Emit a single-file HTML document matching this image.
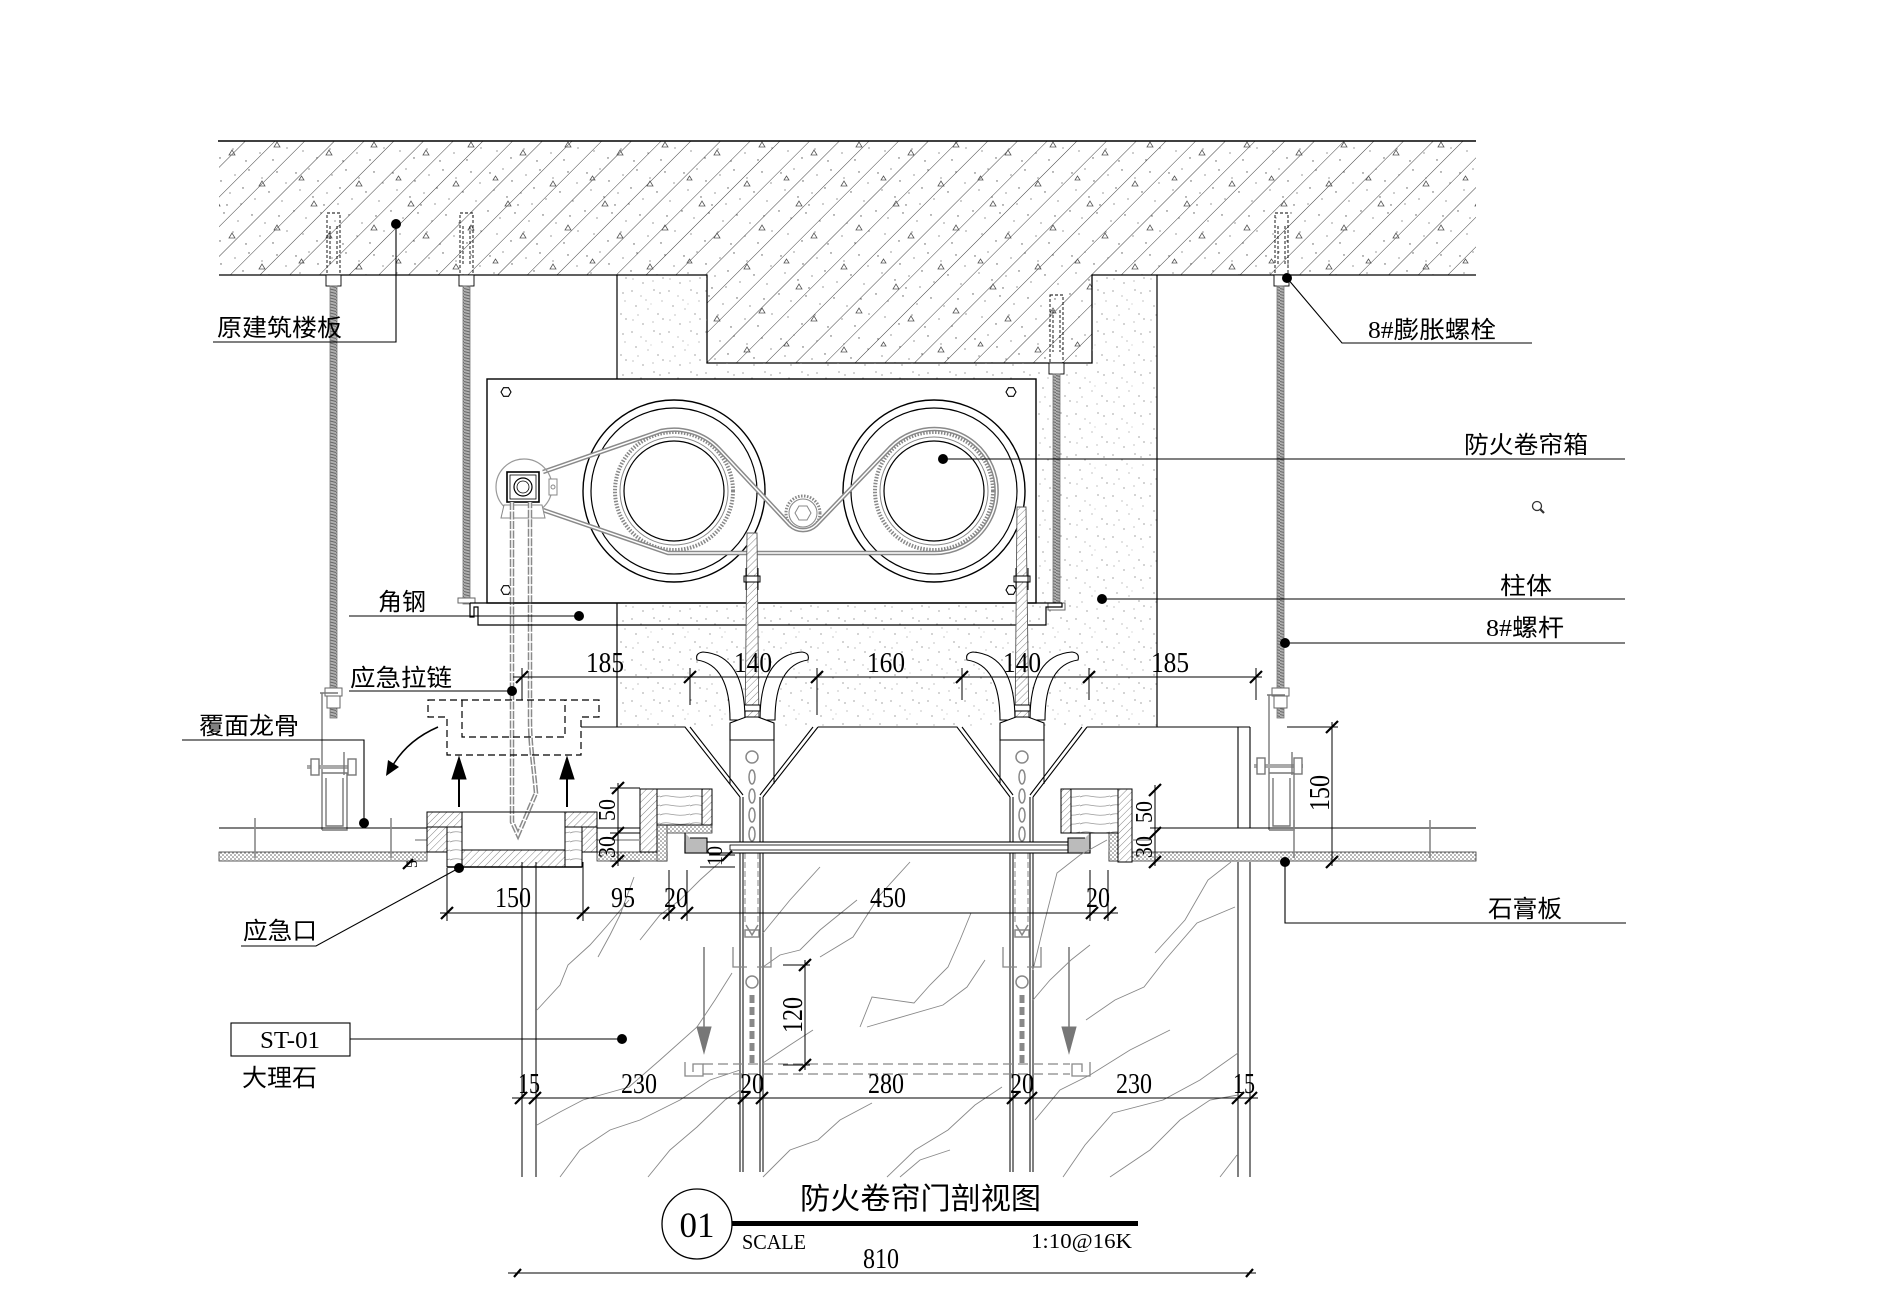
<!DOCTYPE html>
<html><head><meta charset="utf-8">
<style>
html,body{margin:0;padding:0;background:#fff;}
svg{display:block;}
text{font-family:"Liberation Serif","Noto Serif CJK SC",serif;fill:#000;}
.cj{font-family:"Liberation Serif","Noto Sans CJK SC",sans-serif;font-size:24px;}
.dn{font-size:28px;text-anchor:middle;}
</style></head><body>
<svg width="1885" height="1316" viewBox="0 0 1885 1316" xmlns="http://www.w3.org/2000/svg">
<defs>
 <pattern id="hatch" width="21" height="21" patternUnits="userSpaceOnUse" patternTransform="rotate(45)">
   <line x1="0" y1="0" x2="0" y2="21" stroke="#444" stroke-width="1"/>
 </pattern>
 <pattern id="conc" width="97" height="83" patternUnits="userSpaceOnUse">
   <g fill="#555">
   <circle cx="5" cy="7" r="0.7"/><circle cx="18" cy="3" r="0.6"/><circle cx="27" cy="15" r="0.7"/><circle cx="41" cy="9" r="0.6"/>
   <circle cx="55" cy="4" r="0.7"/><circle cx="68" cy="12" r="0.6"/><circle cx="83" cy="6" r="0.7"/><circle cx="92" cy="17" r="0.6"/>
   <circle cx="9" cy="24" r="0.6"/><circle cx="22" cy="31" r="0.7"/><circle cx="36" cy="27" r="0.6"/><circle cx="49" cy="22" r="0.7"/>
   <circle cx="61" cy="33" r="0.6"/><circle cx="75" cy="26" r="0.7"/><circle cx="88" cy="35" r="0.6"/><circle cx="3" cy="45" r="0.7"/>
   <circle cx="15" cy="52" r="0.6"/><circle cx="30" cy="47" r="0.7"/><circle cx="44" cy="55" r="0.6"/><circle cx="58" cy="49" r="0.7"/>
   <circle cx="71" cy="57" r="0.6"/><circle cx="85" cy="50" r="0.7"/><circle cx="12" cy="68" r="0.6"/><circle cx="26" cy="75" r="0.7"/>
   <circle cx="39" cy="66" r="0.6"/><circle cx="52" cy="78" r="0.7"/><circle cx="66" cy="70" r="0.6"/><circle cx="79" cy="77" r="0.7"/>
   <circle cx="93" cy="65" r="0.6"/><circle cx="47" cy="38" r="0.6"/><circle cx="33" cy="39" r="0.7"/>
   </g>
   <g fill="none" stroke="#555" stroke-width="0.8">
   <path d="M20,40 l3,-5 l3,5 z"/><path d="M65,20 l3,-5 l3,5 z"/><path d="M80,64 l3,-5 l3,5 z"/><path d="M35,72 l3,-5 l3,5 z"/><path d="M8,14 l2.5,-4 l2.5,4 z"/>
   </g>
 </pattern>
 <pattern id="speck" width="37" height="41" patternUnits="userSpaceOnUse">
   <g fill="#666">
   <circle cx="3" cy="4" r="0.6"/><circle cx="12" cy="9" r="0.5"/><circle cx="25" cy="3" r="0.6"/><circle cx="33" cy="14" r="0.5"/>
   <circle cx="7" cy="19" r="0.6"/><circle cx="19" cy="22" r="0.5"/><circle cx="29" cy="27" r="0.6"/><circle cx="4" cy="33" r="0.5"/>
   <circle cx="14" cy="37" r="0.6"/><circle cx="24" cy="35" r="0.5"/><circle cx="34" cy="32" r="0.6"/><circle cx="17" cy="13" r="0.5"/>
   <circle cx="9" cy="28" r="0.5"/><circle cx="31" cy="6" r="0.6"/><circle cx="22" cy="17" r="0.4"/>
   </g>
 </pattern>
 <pattern id="board" width="4" height="4" patternUnits="userSpaceOnUse">
   <rect width="4" height="4" fill="#fff"/><circle cx="1" cy="1" r="0.8" fill="#666"/><circle cx="3" cy="3" r="0.8" fill="#666"/>
 </pattern>
 <pattern id="whatch" width="5" height="5" patternUnits="userSpaceOnUse" patternTransform="rotate(45)">
   <rect width="5" height="5" fill="#fff"/><line x1="0" y1="0" x2="0" y2="5" stroke="#777" stroke-width="0.9"/>
 </pattern>
 <pattern id="wood" width="30" height="9" patternUnits="userSpaceOnUse">
   <rect width="30" height="9" fill="#fff"/><path d="M0,5 C8,1 15,8 30,4" stroke="#999" fill="none" stroke-width="0.8"/>
 </pattern>
 <pattern id="thread" width="8" height="3" patternUnits="userSpaceOnUse">
   <rect width="8" height="3" fill="#b0b0b0"/><line x1="0" y1="0.5" x2="8" y2="2.5" stroke="#666" stroke-width="1"/>
 </pattern>
</defs>

<!-- ===== SLAB ===== -->
<path d="M219,141 H1476 V275 H1092 V363 H707 V275 H219 Z" fill="url(#hatch)"/>
<path d="M219,141 H1476 V275 H1092 V363 H707 V275 H219 Z" fill="url(#conc)"/>
<path d="M218,141 H1476" stroke="#000" stroke-width="1.5" fill="none"/>
<path d="M219,275 H707 V363 H1092 V275 H1476" stroke="#000" stroke-width="1.3" fill="none"/>

<!-- ===== COLUMN ===== -->
<path d="M617,275 H707 V363 H1092 V275 H1157 V727 H617 Z" fill="url(#speck)"/>
<path d="M617,275 V727 M1157,275 V727" stroke="#000" stroke-width="1.2" fill="none"/>
<g stroke="#000" stroke-width="1.1" fill="none">
 <path d="M581,727 H685 L740,797 M690,727 L743,795"/>
 <path d="M818,727 L763,797 M813,727 L760,795"/>
 <path d="M818,727 H957 L1010,797 M962,727 L1013,795"/>
 <path d="M1087,727 L1033,797 M1082,727 L1030,795"/>
 <path d="M1087,727 H1250"/>
 <path d="M1238,727 V828 M1250,727 V828"/>
</g>

<!-- ===== RODS / ANCHORS ===== -->
<g>
 <g fill="none" stroke="#000" stroke-width="0.9" stroke-dasharray="3,2">
  <rect x="327" y="213" width="13" height="62"/><path d="M330,226 V265 M337,226 V265"/>
  <rect x="460" y="213" width="13" height="62"/><path d="M463,226 V265 M470,226 V265"/>
  <rect x="1050" y="295" width="13" height="68"/><path d="M1053,310 V352 M1060,310 V352"/>
  <rect x="1275" y="213" width="13" height="62"/><path d="M1278,226 V265 M1285,226 V265"/>
 </g>
 <g fill="#fff" stroke="#000" stroke-width="0.9">
  <rect x="326" y="275" width="15" height="11"/><rect x="459" y="275" width="15" height="11"/>
  <rect x="1049" y="363" width="15" height="11"/><rect x="1274" y="275" width="15" height="11"/>
 </g>
 <g stroke="#777" stroke-width="0.8">
  <rect x="330" y="286" width="7" height="432" fill="url(#thread)"/>
  <rect x="463" y="286" width="7" height="318" fill="url(#thread)"/>
  <rect x="1053" y="374" width="7" height="236" fill="url(#thread)"/>
  <rect x="1277" y="286" width="7" height="432" fill="url(#thread)"/>
 </g>
 <g fill="#fff" stroke="#666" stroke-width="1">
  <rect x="325" y="688" width="17" height="8"/><rect x="327" y="696" width="13" height="12"/>
  <rect x="1272" y="688" width="17" height="8"/><rect x="1274" y="696" width="13" height="12"/>
  <rect x="458" y="598" width="17" height="5"/><rect x="1048" y="603" width="17" height="7"/>
 </g>
</g>

<!-- ===== HANGERS ===== -->
<g fill="none" stroke="#777" stroke-width="1.4">
 <path d="M320,693 H338 M322,693 V830 M322,773 H347 V830 H322 M326,778 V826 H343 V778"/>
 <path d="M307,767 H356" stroke-width="4" stroke="#aaa"/>
 <rect x="311" y="759" width="8" height="16" fill="#fff"/><rect x="348" y="759" width="8" height="16" fill="#fff"/>
 <path d="M344,752 V775"/>
 <path d="M1267,695 H1285 M1269,695 V830 M1269,773 H1294 V830 H1269 M1273,778 V826 H1290 V778"/>
 <path d="M1254,766 H1303" stroke-width="4" stroke="#aaa"/>
 <rect x="1257" y="758" width="8" height="16" fill="#fff"/><rect x="1294" y="758" width="8" height="16" fill="#fff"/>
 <path d="M1292,752 V775"/>
</g>

<!-- ===== BOX ===== -->
<rect x="487" y="379" width="549" height="224" fill="#fff" stroke="#000" stroke-width="1.4"/>
<g fill="#fff" stroke="#000" stroke-width="1.1">
 <polygon points="511,392 508.5,396.3 503.5,396.3 501,392 503.5,387.7 508.5,387.7"/>
 <polygon points="1016,392 1013.5,396.3 1008.5,396.3 1006,392 1008.5,387.7 1013.5,387.7"/>
 <polygon points="511,590 508.5,594.3 503.5,594.3 501,590 503.5,585.7 508.5,585.7"/>
 <polygon points="1016,590 1013.5,594.3 1008.5,594.3 1006,590 1008.5,585.7 1013.5,585.7"/>
</g>
<g fill="none">
 <circle cx="674" cy="491" r="91" stroke="#000" stroke-width="1.4"/>
 <circle cx="674" cy="491" r="83" stroke="#000" stroke-width="1.2"/>
 <circle cx="674" cy="491" r="59" stroke="#888" stroke-width="4" stroke-dasharray="1.5,1.5"/>
 <circle cx="674" cy="491" r="54" stroke="#888" stroke-width="1"/>
 <circle cx="674" cy="491" r="50" stroke="#000" stroke-width="1.2"/>
 <circle cx="934" cy="491" r="91" stroke="#000" stroke-width="1.4"/>
 <circle cx="934" cy="491" r="83" stroke="#000" stroke-width="1.2"/>
 <circle cx="934" cy="491" r="59" stroke="#888" stroke-width="4" stroke-dasharray="1.5,1.5"/>
 <circle cx="934" cy="491" r="54" stroke="#888" stroke-width="1"/>
 <circle cx="934" cy="491" r="50" stroke="#000" stroke-width="1.2"/>
 <circle cx="803" cy="513" r="17" stroke="#888" stroke-width="3" stroke-dasharray="1.5,1.5"/>
 <circle cx="803" cy="513" r="14" stroke="#888" stroke-width="1"/>
 <polygon points="811,513 807,520 799,520 795,513 799,506 807,506" stroke="#888" stroke-width="1"/>
 <path d="M543,472 L661,431 A62,62 0 0 1 719,449 L790,525 A19,19 0 0 0 816,525 L889,449 A62,62 0 1 1 934,553 L668,553 L543,510" stroke="#8a8a8a" stroke-width="4.5"/>
 <path d="M543,472 L661,431 A62,62 0 0 1 719,449 L790,525 A19,19 0 0 0 816,525 L889,449 A62,62 0 1 1 934,553 L668,553 L543,510" stroke="#fff" stroke-width="1.5"/>
</g>
<g fill="none">
 <circle cx="524" cy="487" r="28" stroke="#999" stroke-width="1.2"/>
 <rect x="549" y="479" width="8" height="16" stroke="#888" fill="#fff"/>
 <circle cx="553" cy="487" r="2" stroke="#888"/>
 <path d="M504,505 H542 L545,518 H501 Z" stroke="#888" fill="#fff"/>
 <rect x="507" y="472" width="32" height="30" stroke="#000" stroke-width="1.6" fill="#fff"/>
 <rect x="510" y="475" width="26" height="24" stroke="#000" stroke-width="0.8"/>
 <circle cx="523" cy="487" r="9" stroke="#000" stroke-width="1.2"/>
 <circle cx="523" cy="487" r="6" stroke="#000" stroke-width="0.8"/>
</g>
<g fill="none">
 <path d="M512,502 V822 L518,835 L536,793 C533,760 530,745 530,720 V502" stroke="#8a8a8a" stroke-width="4.5" stroke-dasharray="8,1.5"/>
 <path d="M512,502 V822 L518,835 L536,793 C533,760 530,745 530,720 V502" stroke="#fff" stroke-width="1.5"/>
</g>

<g fill="none" stroke="#000" stroke-width="1.2">
 <path d="M470,603 H1062"/>
 <path d="M470,603 V617 H474 V607 H478 V625 H1046 V607 H1062 V603"/>
</g>

<g stroke="#555" stroke-width="0.9" fill="url(#whatch)">
 <path d="M747,533 H757 L759,732 H745 Z"/>
 <path d="M1017,507 H1026 L1029,732 H1015 Z"/>
</g>
<g fill="#fff" stroke="#000" stroke-width="1">
 <rect x="744" y="576" width="16" height="6"/><path d="M746,568 V590 M758,568 V590" fill="none"/>
 <rect x="1014" y="576" width="16" height="6"/><path d="M1016,568 V590 M1028,568 V590" fill="none"/>
 <rect x="744" y="705" width="16" height="6"/>
 <rect x="1014" y="705" width="16" height="6"/>
</g>

<!-- guide funnels (horn-shaped arms) -->
<g fill="#fff" stroke="#000" stroke-width="1.1">
 <path d="M697,660 Q730,665 730,720 L745,720 Q745,655 703,652 Q695,653 697,660 Z"/>
 <path d="M808,660 Q775,665 775,720 L760,720 Q760,655 802,652 Q810,653 808,660 Z"/>
 <path d="M967,660 Q1000,665 1000,720 L1015,720 Q1015,655 973,652 Q965,653 967,660 Z"/>
 <path d="M1078,660 Q1045,665 1045,720 L1030,720 Q1030,655 1072,652 Q1080,653 1078,660 Z"/>
 <polygon points="730,723 746,717 758,717 774,723 774,740 730,740"/>
 <polygon points="1000,723 1016,717 1028,717 1044,723 1044,740 1000,740"/>
</g>
<g fill="none" stroke="#000" stroke-width="1">
 <path d="M730,740 V784 M774,740 V784 M1000,740 V784 M1044,740 V784"/>
 <path d="M740,797 V1172 M743,797 V1172 M760,797 V1172 M763,797 V1172"/>
 <path d="M1010,797 V1172 M1013,797 V1172 M1030,797 V1172 M1033,797 V1172"/>
</g>
<g fill="none" stroke="#888" stroke-width="1.5">
 <circle cx="752" cy="757" r="6"/><circle cx="1022" cy="757" r="6"/>
 <ellipse cx="752" cy="777" rx="3" ry="7"/><ellipse cx="752" cy="796" rx="3" ry="7"/><ellipse cx="752" cy="815" rx="3" ry="7"/><ellipse cx="752" cy="834" rx="3" ry="7"/>
 <ellipse cx="1022" cy="777" rx="3" ry="7"/><ellipse cx="1022" cy="796" rx="3" ry="7"/><ellipse cx="1022" cy="815" rx="3" ry="7"/><ellipse cx="1022" cy="834" rx="3" ry="7"/>
 <path d="M745,853 V925 M758,853 V925 M1015,853 V925 M1028,853 V925" stroke-dasharray="6,3" stroke-width="1"/>
 <path d="M746,925 L752,935 L758,925 M1016,925 L1022,935 L1028,925"/>
 <path d="M733,947 V967 H747 M771,947 V967 H757 M1003,947 V967 H1017 M1041,947 V967 H1027" stroke-width="1.3"/>
 <rect x="745" y="930" width="14" height="7"/><rect x="1015" y="930" width="14" height="7"/>
 <circle cx="752" cy="982" r="6"/><circle cx="1022" cy="982" r="6"/>
 <path d="M752,995 V1063 M1022,995 V1063" stroke-width="5" stroke-dasharray="8,4"/>
</g>
<g fill="none" stroke="#888" stroke-width="1.3">
 <path d="M703,1064 H1070 M703,1074 H1070" stroke-dasharray="10,5"/>
 <path d="M685,1062 V1076 H703 V1064 H693 V1072"/>
 <path d="M1090,1062 V1076 H1072 V1064 H1082 V1072"/>
</g>
<g stroke="#777" fill="#777">
 <path d="M704,947 V1030 M1069,947 V1030" stroke-width="1.5" fill="none"/>
 <polygon points="697,1027 711,1027 704,1053"/>
 <polygon points="1062,1027 1076,1027 1069,1053"/>
</g>

<!-- ===== CEILING ===== -->
<g stroke="#000" stroke-width="1" fill="none">
 <path d="M219,828 H428 M597,828 H640 M1150,828 H1476"/>
</g>
<g stroke="#333" stroke-width="0.8">
 <rect x="219" y="852" width="208" height="9" fill="url(#board)"/>
 <rect x="597" y="852" width="70" height="9" fill="url(#board)"/>
 <rect x="657" y="825" width="55" height="8" fill="url(#board)"/>
 <rect x="657" y="825" width="10" height="36" fill="url(#board)"/>
 <rect x="1109" y="852" width="367" height="9" fill="url(#board)"/>
 <rect x="1073" y="826" width="45" height="7" fill="url(#board)"/>
 <rect x="1109" y="826" width="9" height="35" fill="url(#board)"/>
</g>
<g stroke="#888" stroke-width="1.6" fill="none">
 <path d="M255,818 V858 M391,818 V858 M1294,820 V858 M1430,820 V858"/>
</g>
<g stroke="#000" stroke-width="1">
 <rect x="640" y="789" width="72" height="36" fill="url(#wood)"/>
 <rect x="640" y="789" width="17" height="63" fill="url(#whatch)"/>
 <rect x="702" y="789" width="10" height="36" fill="url(#whatch)"/>
 <rect x="1061" y="789" width="71" height="44" fill="url(#wood)"/>
 <rect x="1118" y="789" width="14" height="73" fill="url(#whatch)"/>
 <rect x="1061" y="789" width="10" height="44" fill="url(#whatch)"/>
</g>
<g stroke="#000" stroke-width="1.1">
 <rect x="685" y="842" width="405" height="11" fill="#fff"/>
 <rect x="730" y="845" width="338" height="5" fill="none" stroke-width="0.8"/>
 <path d="M685,833 V853 H707 V838 H690" fill="#bbb"/>
 <path d="M1090,833 V853 H1068 V838 H1085" fill="#bbb"/>
</g>
<g stroke="#999" stroke-width="1.5">
 <path d="M612,840 H640 M1132,840 H1150 M415,840 H445 M580,840 H600"/>
</g>

<g stroke="#000" stroke-width="1">
 <path d="M427,812 H597" fill="none"/>
 <rect x="427" y="812" width="35" height="15" fill="url(#whatch)"/>
 <rect x="565" y="812" width="32" height="15" fill="url(#whatch)"/>
 <rect x="427" y="827" width="20" height="25" fill="url(#whatch)"/>
 <rect x="582" y="827" width="15" height="25" fill="url(#whatch)"/>
 <rect x="447" y="827" width="15" height="40" fill="url(#wood)"/>
 <rect x="565" y="827" width="17" height="40" fill="url(#wood)"/>
 <rect x="462" y="850" width="103" height="17" fill="url(#whatch)"/>
 <path d="M447,867 H582" stroke-width="1.5" fill="none"/>
</g>
<g fill="none" stroke="#000" stroke-width="1.2" stroke-dasharray="7,4">
 <path d="M428,700 H599 V717 H581 V755 H447 V717 H428 Z"/>
 <path d="M462,700 V737 H565 V700"/>
</g>
<g stroke="#000" fill="#000">
 <path d="M459,807 V775 M567,807 V775" stroke-width="2" fill="none"/>
 <polygon points="452,779 466,779 459,757"/>
 <polygon points="560,779 574,779 567,757"/>
</g>
<path d="M438,727 Q408,740 393,765" fill="none" stroke="#000" stroke-width="1.5"/>
<polygon points="386,776 388,760 399,767" fill="#000"/>

<g stroke="#000" stroke-width="1" fill="none">
 <path d="M522,862 V1177 M536,862 V1177 M1238,862 V1177 M1250,862 V1177"/>
</g>
<g stroke="#888" stroke-width="0.9" fill="none">
 <polyline points="537,1010 560,985 568,965 590,945 606,927 629,900"/>
 <polyline points="537,1125 560,1112 583,1100 629,1087 660,1060 697,1027 715,1000 732,973"/>
 <polyline points="648,1177 670,1150 697,1127 725,1100 740,1090"/>
 <polyline points="763,1177 790,1150 818,1140 840,1120 872,1103"/>
 <polyline points="887,1177 915,1150 948,1130 975,1105 1002,1087"/>
 <polyline points="763,967 780,955 800,950 820,930 857,900"/>
 <polyline points="860,1027 872,997 914,1003 930,985 948,967 960,940 971,913"/>
 <polyline points="1033,1000 1050,980 1071,960 1090,945"/>
 <polyline points="1063,1177 1085,1145 1113,1113 1163,1100 1200,1080 1238,1053"/>
 <polyline points="1086,1020 1115,1000 1144,987 1165,960 1197,923 1235,907"/>
 <polyline points="1220,1177 1237,1155"/>
 <polyline points="763,933 790,900 820,867"/>
 <polyline points="820,957 853,937 880,895 910,862"/>
 <polyline points="763,1063 790,1045 813,1030"/>
 <polyline points="867,1027 943,1005 967,987 985,960"/>
 <polyline points="598,957 610,935 620,915 634,877"/>
 <polyline points="1033,970 1045,920 1057,873 1080,855 1107,840"/>
 <polyline points="1155,953 1185,920 1208,880 1231,862"/>
 <polyline points="560,1177 580,1150 610,1130 640,1120 680,1100 710,1080 740,1070"/>
 <polyline points="1035,1120 1060,1090 1090,1075 1130,1050 1170,1030"/>
 <polyline points="640,940 660,915 680,900 700,880 720,862"/>
 <polyline points="900,1177 920,1160 950,1150"/>
 <polyline points="1110,1177 1150,1150 1180,1120 1210,1100 1238,1095"/>
</g>

<!-- ===== DIMENSIONS ===== -->
<g stroke="#000" stroke-width="1" fill="none">
 <path d="M513,677 H1262"/>
 <path d="M522,668 V700 M690,668 V705 M817,668 V715 M962,668 V700 M1089,668 V700 M1256,668 V700"/>
 <path d="M440,913 H1118"/>
 <path d="M447,868 V921 M583,862 V921 M669,870 V921 M687,870 V921 M1090,870 V921 M1108,870 V921"/>
 <path d="M512,1098 H1258"/>
 <path d="M508,1273 H1256"/>
 <path d="M618,783 V866 M610,788 H640 M610,833 H640 M610,861 H640"/>
 <path d="M1155,785 V866"/>
 <path d="M1332,722 V866 M1287,727 H1338"/>
 <path d="M805,960 V1070 M783,965 H810 M783,1065 H810"/>
 <path d="M709,855 H735 M700,867 H735"/>
</g>
<g stroke="#000" stroke-width="2.2" fill="none">
 <path d="M516,683 L528,671 M684,683 L696,671 M811,683 L823,671 M956,683 L968,671 M1083,683 L1095,671 M1250,683 L1262,671"/>
 <path d="M441,919 L453,907 M577,919 L589,907 M663,919 L675,907 M681,919 L693,907 M1086,919 L1098,907 M1104,919 L1116,907"/>
 <path d="M515,1104 L527,1092 M529,1104 L541,1092 M738,1104 L750,1092 M756,1104 L768,1092 M1007,1104 L1019,1092 M1025,1104 L1037,1092 M1232,1104 L1244,1092 M1245,1104 L1257,1092"/>
 <path d="M514,1277 L521,1269 M1246,1277 L1253,1269"/>
 <path d="M612,794 L624,782 M612,839 L624,827 M612,867 L624,855"/>
 <path d="M1149,796 L1161,784 M1149,839 L1161,827 M1149,868 L1161,856"/>
 <path d="M1326,733 L1338,721 M1326,868 L1338,856"/>
 <path d="M799,971 L811,959 M799,1071 L811,1059"/>
 <path d="M722,861 L732,851 M403,869 L413,859"/>
</g>
<g>
 <text class="dn" x="605" y="672" textLength="38" lengthAdjust="spacingAndGlyphs">185</text>
 <text class="dn" x="753" y="672" textLength="38" lengthAdjust="spacingAndGlyphs">140</text>
 <text class="dn" x="886" y="672" textLength="38" lengthAdjust="spacingAndGlyphs">160</text>
 <text class="dn" x="1022" y="672" textLength="38" lengthAdjust="spacingAndGlyphs">140</text>
 <text class="dn" x="1170" y="672" textLength="38" lengthAdjust="spacingAndGlyphs">185</text>

 <text class="dn" x="513" y="907" textLength="36" lengthAdjust="spacingAndGlyphs">150</text>
 <text class="dn" x="623" y="907" textLength="24" lengthAdjust="spacingAndGlyphs">95</text>
 <text class="dn" x="676" y="907" textLength="24" lengthAdjust="spacingAndGlyphs">20</text>
 <text class="dn" x="888" y="907" textLength="36" lengthAdjust="spacingAndGlyphs">450</text>
 <text class="dn" x="1098" y="907" textLength="24" lengthAdjust="spacingAndGlyphs">20</text>

 <text class="dn" x="529" y="1093" textLength="22" lengthAdjust="spacingAndGlyphs">15</text>
 <text class="dn" x="639" y="1093" textLength="36" lengthAdjust="spacingAndGlyphs">230</text>
 <text class="dn" x="752" y="1093" textLength="24" lengthAdjust="spacingAndGlyphs">20</text>
 <text class="dn" x="886" y="1093" textLength="36" lengthAdjust="spacingAndGlyphs">280</text>
 <text class="dn" x="1022" y="1093" textLength="24" lengthAdjust="spacingAndGlyphs">20</text>
 <text class="dn" x="1134" y="1093" textLength="36" lengthAdjust="spacingAndGlyphs">230</text>
 <text class="dn" x="1244" y="1093" textLength="22" lengthAdjust="spacingAndGlyphs">15</text>

 <text class="dn" x="881" y="1268" textLength="36" lengthAdjust="spacingAndGlyphs">810</text>

 <text class="dn" transform="translate(615,810) rotate(-90)" style="font-size:24px" textLength="22" lengthAdjust="spacingAndGlyphs">50</text>
 <text class="dn" transform="translate(615,847) rotate(-90)" style="font-size:24px" textLength="22" lengthAdjust="spacingAndGlyphs">30</text>
 <text class="dn" transform="translate(1152,812) rotate(-90)" style="font-size:24px" textLength="22" lengthAdjust="spacingAndGlyphs">50</text>
 <text class="dn" transform="translate(1152,847) rotate(-90)" style="font-size:24px" textLength="22" lengthAdjust="spacingAndGlyphs">30</text>
 <text class="dn" transform="translate(1329,793) rotate(-90)" textLength="36" lengthAdjust="spacingAndGlyphs">150</text>
 <text class="dn" transform="translate(802,1015) rotate(-90)" textLength="36" lengthAdjust="spacingAndGlyphs">120</text>
 <text class="dn" transform="translate(722,856) rotate(-90)" style="font-size:22px" textLength="20" lengthAdjust="spacingAndGlyphs">10</text>
 <text class="dn" transform="translate(417,864) rotate(-90)" style="font-size:16px">5</text>
</g>

<!-- ===== LABELS / LEADERS ===== -->
<g stroke="#000" stroke-width="1.1" fill="none">
 <path d="M396,224 V342 H213"/>
 <path d="M1287,278 L1342,343 H1532"/>
 <path d="M943,459 H1625"/>
 <path d="M1102,599 H1625"/>
 <path d="M1285,643 H1625"/>
 <path d="M1285,862 V923 H1626"/>
 <path d="M349,616 H579"/>
 <path d="M349,691 H512"/>
 <path d="M182,740 H364 V823"/>
 <path d="M241,946 H316 L459,868"/>
 <path d="M350,1039 H622"/>
 <rect x="231" y="1023" width="119" height="33"/>
</g>
<g fill="#000">
 <circle cx="396" cy="224" r="5"/><circle cx="1287" cy="278" r="5"/><circle cx="943" cy="459" r="5"/>
 <circle cx="1102" cy="599" r="5"/><circle cx="1285" cy="643" r="5"/><circle cx="1285" cy="862" r="5"/>
 <circle cx="579" cy="616" r="5"/><circle cx="512" cy="691" r="5"/><circle cx="364" cy="823" r="5"/>
 <circle cx="459" cy="868" r="5"/><circle cx="622" cy="1039" r="5"/>
</g>
<g>
 <text class="cj" x="217" y="336" textLength="125" lengthAdjust="spacingAndGlyphs">原建筑楼板</text>
 <text class="cj" x="1368" y="338" textLength="128" lengthAdjust="spacingAndGlyphs">8#膨胀螺栓</text>
 <text class="cj" x="1464" y="453" textLength="124" lengthAdjust="spacingAndGlyphs">防火卷帘箱</text>
 <text class="cj" x="1500" y="594" textLength="52" lengthAdjust="spacingAndGlyphs">柱体</text>
 <text class="cj" x="1486" y="636" textLength="78" lengthAdjust="spacingAndGlyphs">8#螺杆</text>
 <text class="cj" x="1488" y="917" textLength="74" lengthAdjust="spacingAndGlyphs">石膏板</text>
 <text class="cj" x="378" y="610" textLength="48" lengthAdjust="spacingAndGlyphs">角钢</text>
 <text class="cj" x="350" y="686" textLength="102" lengthAdjust="spacingAndGlyphs">应急拉链</text>
 <text class="cj" x="199" y="734" textLength="100" lengthAdjust="spacingAndGlyphs">覆面龙骨</text>
 <text class="cj" x="243" y="939" textLength="74" lengthAdjust="spacingAndGlyphs">应急口</text>
 <text class="cj" x="242" y="1086" textLength="75" lengthAdjust="spacingAndGlyphs">大理石</text>
 <text x="290" y="1048" style="font-size:24px" text-anchor="middle" textLength="60" lengthAdjust="spacingAndGlyphs">ST-01</text>
</g>

<g stroke="#333" fill="none">
 <circle cx="1537" cy="506" r="4.5" stroke-width="1.3"/>
 <path d="M1540.5,509.5 L1544,513" stroke-width="2.2"/>
</g>

<!-- ===== TITLE ===== -->
<circle cx="697" cy="1224" r="35" fill="none" stroke="#000" stroke-width="1.3"/>
<text x="697" y="1237" style="font-size:36px" text-anchor="middle" textLength="35" lengthAdjust="spacingAndGlyphs">01</text>
<rect x="732" y="1221" width="406" height="5" fill="#000"/>
<text class="cj" x="800" y="1209" style="font-size:30px" textLength="241" lengthAdjust="spacingAndGlyphs">防火卷帘门剖视图</text>
<text x="742" y="1249" style="font-size:21px" textLength="64" lengthAdjust="spacingAndGlyphs">SCALE</text>
<text x="1031" y="1248" style="font-size:21px" textLength="101" lengthAdjust="spacingAndGlyphs">1:10@16K</text>
</svg>
</body></html>
